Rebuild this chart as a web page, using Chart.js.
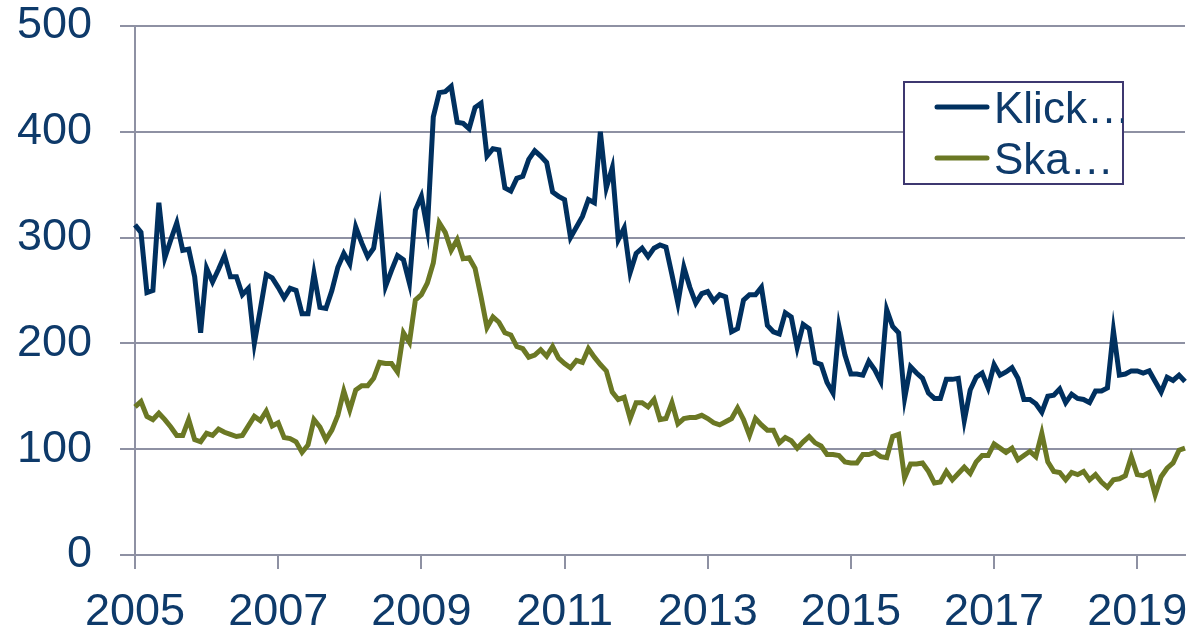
<!DOCTYPE html>
<html>
<head>
<meta charset="utf-8">
<script src="https://cdn.jsdelivr.net/npm/chart.js@4"></script>
<style>
  html, body { margin: 0; padding: 0; background: #fff; }
</style>
</head>
<body>
<canvas id="chart" width="1192" height="632"></canvas>
<script>
// monthly series, Jan 2005 .. Sep 2019
const startYear = 2005;
const monthCount = 177;
const tickYears = ['2005', '2007', '2009', '2011', '2013', '2015', '2017', '2019'];

const klick = [
  312, 305, 248, 250, 333, 281, 298, 314, 288, 289, 263, 210,
  271, 258, 270, 283, 263, 263, 246, 252, 200, 232, 265, 262,
  253, 243, 252, 250, 228, 228, 266, 234, 233, 250, 272, 285,
  275, 310, 295, 282, 290, 325, 254, 269, 283, 279, 257, 326,
  339, 308, 414, 437, 438, 443, 409, 408, 403, 423, 427, 377,
  384, 383, 347, 344, 356, 358, 374, 382, 377, 371, 343, 339,
  336, 300, 310, 320, 336, 333, 400, 347, 366, 298, 309, 267,
  285, 290, 282, 290, 293, 291, 265, 238, 272, 253, 238, 247,
  249, 240, 246, 244, 211, 214, 241, 246, 246, 253, 217, 211,
  209, 229, 225, 196, 218, 214, 182, 180, 163, 153, 216, 189,
  171, 171, 170, 183, 175, 164, 232, 216, 210, 148, 178, 172,
  167, 153, 148, 148, 166, 166, 167, 127, 156, 168, 172, 158,
  180, 170, 173, 177, 167, 147, 147, 143, 135, 150, 151, 157,
  144, 152, 148, 147, 144, 155, 155, 158, 212, 170, 171, 174,
  174, 172, 174, 164, 154, 168, 165, 170, 164
];

const ska = [
  140, 145, 131, 128, 134, 128, 121, 113, 113, 128, 109, 107,
  115, 113, 119, 116, 114, 112, 113, 122, 131, 127, 136, 122,
  125, 111, 110, 107,  97, 104, 128, 121, 109, 118, 132, 155,
  137, 156, 160, 160, 167, 182, 181, 181, 173, 210, 201, 241,
  246, 257, 276, 314, 305, 288, 298, 280, 281, 271, 244, 215,
  225, 220, 210, 208, 197, 195, 187, 189, 194, 188, 197, 186,
  181, 177, 184, 182, 195, 187, 180, 174, 154, 147, 149, 129,
  144, 144, 140, 147, 128, 129, 144, 124, 129, 130, 130, 132,
  129, 125, 123, 126, 129, 139, 128, 113, 129, 123, 118, 118,
  106, 111, 108, 101, 107, 112, 106, 103,  95,  95,  94,  88,
   87,  87,  95,  95,  97,  93,  92, 112, 114,  73,  86,  86,
   87,  79,  68,  69,  79,  71,  77,  83,  77,  88,  94,  94,
  105, 101,  97, 101,  90,  94,  98,  93, 115,  88,  79,  78,
   71,  78,  76,  79,  71,  76,  69,  64,  71,  72,  75,  93,
   76,  75,  78,  57,  74,  82,  87,  99, 101
];

const months = [];
for (let i = 0; i < monthCount; i++) {
  const y = startYear + Math.floor(i / 12);
  const m = String(i % 12 + 1).padStart(2, '0');
  months.push(y + '-' + m);
}

const textColor = '#0e3a6a';
const gridColor = '#8e91a3';
const fontFamily = '"Liberation Sans", Arial, sans-serif';

// framed legend in the upper right
const boxLegend = {
  id: 'boxLegend',
  afterDatasetsDraw(chart) {
    const c = chart.ctx;
    const bx = 904, by = 82, bw = 219, bh = 102;
    c.save();
    c.fillStyle = '#fff';
    c.fillRect(bx, by, bw, bh);
    c.strokeStyle = '#3e3870';
    c.lineWidth = 2;
    c.strokeRect(bx, by, bw, bh);
    c.beginPath();
    c.rect(bx, by, bw, bh);
    c.clip();
    chart.data.datasets.forEach((ds, i) => {
      const y = 107 + i * 51;
      c.strokeStyle = ds.borderColor;
      c.lineWidth = 5;
      c.lineCap = 'round';
      c.beginPath();
      c.moveTo(937, y);
      c.lineTo(987, y);
      c.stroke();
      c.fillStyle = textColor;
      c.font = '44px ' + fontFamily;
      c.textBaseline = 'alphabetic';
      c.fillText(ds.label, 994, y + 16);
    });
    c.restore();
  }
};

new Chart(document.getElementById('chart'), {
  type: 'line',
  data: {
    labels: months,
    datasets: [{
      label: 'Klick…',
      data: klick,
      borderColor: '#00305f',
      borderWidth: 5,
      pointRadius: 0,
      tension: 0,
      fill: false
    }, {
      label: 'Ska…',
      data: ska,
      borderColor: '#6b7824',
      borderWidth: 5,
      pointRadius: 0,
      tension: 0,
      fill: false
    }]
  },
  options: {
    responsive: false,
    animation: false,
    layout: { padding: { top: 0, right: 7, left: 0, bottom: 0 } },
    plugins: {
      legend: { display: false },
      tooltip: { enabled: false }
    },
    scales: {
      x: {
        offset: false,
        afterBuildTicks(scale) {
          scale.ticks = scale.ticks.filter(t => {
            const lab = months[t.value];
            return lab.endsWith('-01') && tickYears.includes(lab.slice(0, 4));
          });
        },
        afterFit(scale) {
          scale.height = 77;
          scale.paddingLeft = 0;
          scale.paddingRight = 0;
        },
        ticks: {
          autoSkip: false,
          maxRotation: 0,
          color: textColor,
          font: { family: fontFamily, size: 45 },
          padding: 17,
          callback(value) { return months[value].slice(0, 4); }
        },
        grid: {
          drawOnChartArea: false,
          drawTicks: true,
          tickLength: 14,
          color: gridColor,
          lineWidth: 2
        },
        border: { color: gridColor, width: 2 }
      },
      y: {
        min: 0,
        max: 500,
        afterFit(scale) {
          scale.width = 135;
          scale.paddingTop = 26;
          scale.paddingBottom = 0;
        },
        ticks: {
          stepSize: 100,
          color: textColor,
          font: { family: fontFamily, size: 45 },
          padding: 28
        },
        grid: {
          color: gridColor,
          lineWidth: 2,
          tickLength: 15
        },
        border: { color: gridColor, width: 2 }
      }
    }
  },
  plugins: [boxLegend]
});
</script>
</body>
</html>
